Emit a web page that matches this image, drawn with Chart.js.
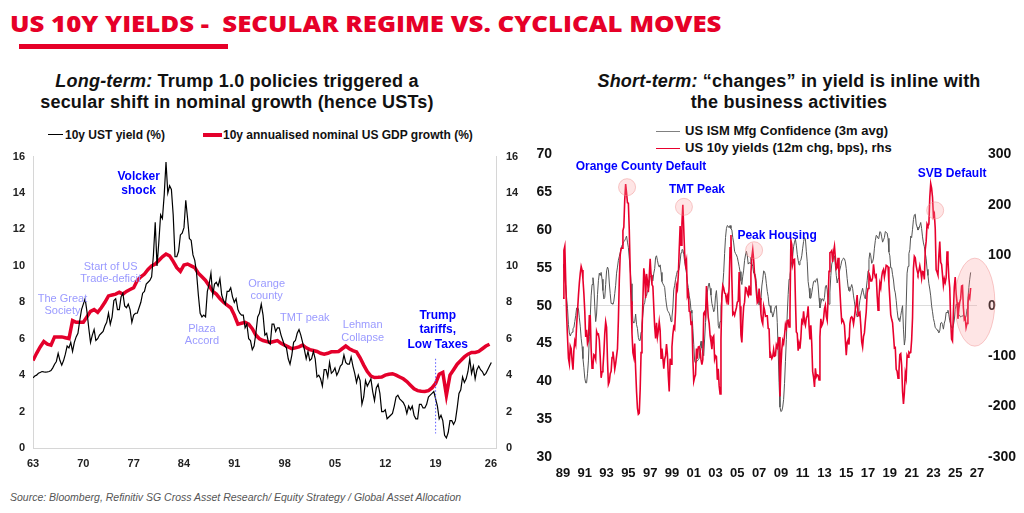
<!DOCTYPE html>
<html>
<head>
<meta charset="utf-8">
<script src="https://cdn.jsdelivr.net/npm/chart.js@4.4.1/dist/chart.umd.min.js"></script>
<style>
  body { margin: 0; background: #fff; }
  #page { position: relative; width: 1024px; height: 513px; overflow: hidden; font-family: "Liberation Sans", Arial, sans-serif; }
  .abs { position: absolute; white-space: nowrap; }
  #title { left: 10px; top: 9px; font: 800 23px/28px "Open Sans", Roboto, sans-serif; color: #e60028; transform: scaleX(1.12); transform-origin: 0 0; }
  #bar { left: 19px; top: 44px; width: 209px; height: 5px; background: #e60028; }
  .sub { top: 71px; font: 700 18px/21px "Liberation Sans", Arial, sans-serif; letter-spacing: 0.2px; color: #111; text-align: center; }
  .leg { font-weight: 700; color: #111; }
  .line { position: absolute; }
  #source { left: 10px; top: 492px; font: italic 10.5px/11px "Liberation Sans", Arial, sans-serif; color: #555; }
</style>
</head>
<body>
<div id="page">
  <div id="title" class="abs">US 10Y YIELDS -&nbsp; SECULAR REGIME VS. CYCLICAL MOVES</div>
  <div id="bar" class="abs"></div>

  <div class="abs sub" style="left:0;width:474px"><i>Long-term:</i> Trump 1.0 policies triggered a<br>secular shift in nominal growth (hence USTs)</div>
  <div class="abs sub" style="left:529px;width:520px"><i>Short-term:</i> “changes” in yield is inline with<br>the business activities</div>

  <div class="line" style="left:48px;top:134px;width:15px;height:1.3px;background:#000"></div>
  <div class="abs leg" style="left:65px;top:128px;font-size:12px;line-height:14px">10y UST yield (%)</div>
  <div class="line" style="left:203px;top:133px;width:19px;height:4px;background:#e4002b"></div>
  <div class="abs leg" style="left:223px;top:128px;font-size:12px;line-height:14px">10y annualised nominal US GDP growth (%)</div>

  <div class="line" style="left:656px;top:130.5px;width:24px;height:1.5px;background:#808080"></div>
  <div class="abs leg" style="left:685px;top:122px;font-size:13px;line-height:17px">US ISM Mfg Confidence (3m avg)</div>
  <div class="line" style="left:656px;top:147.5px;width:24px;height:1.5px;background:#e8002d"></div>
  <div class="abs leg" style="left:685px;top:139px;font-size:13px;line-height:17px">US 10y yields (12m chg, bps), rhs</div>

  <div class="abs" style="left:0;top:140px"><canvas id="left" width="530" height="340"></canvas></div>
  <div class="abs" style="left:525px;top:135px"><canvas id="right" width="499" height="355"></canvas></div>

  <div id="source" class="abs">Source: Bloomberg, Refinitiv SG Cross Asset Research/ Equity Strategy / Global Asset Allocation</div>
</div>

<script>
// left panel: quarterly 10y UST yield from 1963Q1, semi-annual 10y nominal GDP growth from 1963H1
const leftStartYear = 1963
const leftYearTicks = [1963, 1970, 1977, 1984, 1991, 1998, 2005, 2012, 2019, 2026.7]
const ustYield = [
  3.85, 3.95, 4.0, 4.1,
  4.15, 4.2, 4.18, 4.17,
  4.18, 4.2, 4.25, 4.4,
  4.6, 4.75, 5.2, 4.8,
  4.55, 4.8, 5.15, 5.6,
  5.5, 5.8, 5.3, 5.8,
  6.1, 6.3, 7.0, 7.6,
  7.9, 8.2, 7.5, 6.6,
  5.8, 6.2, 6.5, 5.9,
  6.0, 6.2, 6.3, 6.4,
  6.7, 6.9, 7.4, 6.8,
  7.2, 8.1, 8.2, 7.6,
  7.6, 8.3, 8.5, 7.8,
  7.7, 7.9, 7.6, 6.9,
  7.3, 7.4, 7.4, 7.7,
  8.0, 8.5, 8.6, 9.0,
  9.1, 9.2, 9.4, 10.6,
  12.4, 10.0, 11.3, 12.8,
  12.6, 13.9, 15.7, 14.0,
  14.4, 14.2, 12.8, 10.5,
  10.5, 10.8, 11.7, 11.8,
  12.1, 13.6, 12.6, 11.5,
  11.4, 10.6, 10.3, 9.6,
  8.4, 7.4, 7.2, 7.3,
  7.2, 8.6, 9.0, 9.6,
  8.4, 9.0, 9.1, 8.9,
  9.3, 8.4, 8.1, 7.9,
  8.6, 8.6, 8.8, 8.3,
  8.0, 8.2, 7.6, 7.4,
  7.3, 7.3, 6.6, 6.8,
  6.0, 5.9, 5.4, 5.6,
  6.3, 7.2, 7.4, 7.9,
  7.3, 6.2, 6.3, 5.8,
  5.7, 6.8, 6.8, 6.4,
  6.6, 6.6, 6.2, 5.9,
  5.6, 5.5, 4.9, 4.6,
  5.1, 5.8, 5.9, 6.3,
  6.5, 6.2, 5.8, 5.4,
  4.9, 5.3, 4.8, 4.9,
  5.3, 4.9, 3.9, 4.0,
  3.8, 3.4, 4.3, 4.3,
  3.9, 4.7, 4.1, 4.2,
  4.4, 4.0, 4.2, 4.5,
  4.6, 5.1, 4.7, 4.6,
  4.6, 5.0, 4.5, 4.1,
  3.6, 4.0, 3.7, 2.4,
  2.8, 3.7, 3.4, 3.6,
  3.8, 3.1, 2.6, 3.3,
  3.5, 3.0, 2.0, 2.0,
  2.1, 1.6, 1.7, 1.8,
  1.9, 2.3, 2.8, 2.9,
  2.7, 2.6, 2.5, 2.3,
  1.9, 2.3, 2.1, 2.3,
  1.8, 1.6, 1.6, 2.4,
  2.4, 2.2, 2.2, 2.4,
  2.8, 2.9, 3.0, 3.1,
  2.7, 2.3, 1.6, 1.8,
  1.5, 0.7, 0.55, 0.85,
  1.5, 1.5, 1.3, 1.5,
  2.2, 3.0, 3.2, 3.9,
  3.6, 3.8, 4.2, 4.9,
  4.1, 4.5, 3.8, 4.3,
  4.5, 4.3, 4.2, 4.0,
  4.1, 4.3, 4.5, 4.7,
]
const gdpGrowth = [
  4.8, 5.2, 5.55, 5.85, 5.7, 5.65, 6.1, 6.1, 6.1, 6.05,
  6.0, 7.0, 6.9, 6.9, 6.9, 7.2, 7.5, 7.6, 7.45, 7.7,
  8.0, 8.35, 8.4, 8.45, 8.55, 8.45, 8.6, 8.7, 8.8, 9.2,
  9.4, 9.55, 9.8, 10.0, 10.1, 10.3, 10.5, 10.65, 10.55, 10.25,
  9.9, 9.7, 10.05, 10.1, 10.0, 9.9, 9.6, 9.4, 9.2, 8.9,
  8.6, 8.45, 8.2, 8.0, 7.85, 7.7, 7.3, 6.8, 6.85, 6.9,
  6.8, 6.55, 6.2, 6.0, 5.9, 5.85, 5.8, 5.85, 5.9, 5.75,
  5.65, 5.55, 5.45, 5.5, 5.55, 5.65, 5.5, 5.4, 5.35, 5.3,
  5.2, 5.15, 5.2, 5.28, 5.28, 5.3, 5.45, 5.6, 5.45, 5.35,
  5.28, 4.95, 4.55, 4.2, 3.95, 3.87, 3.88, 3.9, 4.0, 4.05,
  4.08, 4.0, 3.9, 3.8, 3.65, 3.45, 3.25, 3.15, 3.12, 3.1,
  3.15, 3.3, 3.55, 4.05, 4.15, 2.9, 4.0, 4.3, 4.6, 4.8,
  5.0, 5.15, 5.25, 5.25, 5.3, 5.45, 5.6, 5.7,
]

// right panel: monthly from Jan 1989
const rightStartYear = 1989
const rightYearTicks = [1989, 1991, 1993, 1995, 1997, 1999, 2001, 2003, 2005, 2007, 2009, 2011, 2013, 2015, 2017, 2019, 2021, 2023, 2025, 2027]
const ismConfidence = [
  55.5, 55.0, 53.4, 52.6, 51.0, 49.6, 47.5, 46.4, 46.0, 46.3, 46.5, 47.0,
  47.1, 47.9, 48.7, 49.7, 49.8, 49.6, 48.4, 47.3, 45.7, 44.6, 43.0, 41.8,
  40.4, 39.8, 39.8, 41.0, 42.7, 45.9, 48.5, 51.3, 52.8, 53.7, 52.6, 49.9,
  47.9, 48.9, 51.5, 53.3, 54.3, 54.0, 54.4, 53.5, 52.0, 50.9, 51.1, 52.8,
  54.6, 55.1, 54.8, 53.0, 51.6, 50.3, 50.3, 50.2, 50.6, 51.6, 52.7, 54.3,
  55.1, 56.0, 56.5, 57.0, 57.4, 58.0, 58.2, 58.5, 58.6, 58.9, 59.2, 58.4,
  57.7, 56.3, 54.9, 52.9, 50.1, 48.0, 47.7, 47.9, 48.9, 47.5, 47.0, 45.8,
  45.4, 45.4, 46.5, 47.6, 48.9, 50.1, 50.4, 51.3, 51.3, 51.9, 52.1, 52.9,
  53.9, 53.9, 53.5, 53.3, 54.3, 54.9, 56.4, 56.6, 56.0, 55.4, 55.1, 55.4,
  54.4, 53.2, 52.9, 52.7, 52.4, 51.1, 50.1, 49.4, 49.2, 49.0, 48.6, 47.9,
  48.5, 49.7, 52.1, 52.7, 53.5, 54.1, 54.6, 54.5, 54.9, 55.9, 57.0, 57.4,
  57.4, 56.8, 55.8, 55.1, 54.3, 53.1, 52.4, 51.3, 50.7, 49.4, 49.0, 47.0,
  44.9, 42.7, 42.4, 42.7, 42.7, 42.9, 43.0, 44.5, 45.3, 44.4, 43.7, 43.4,
  45.6, 47.8, 50.2, 51.8, 52.6, 53.0, 52.3, 51.4, 50.3, 49.8, 49.2, 49.5,
  51.3, 52.0, 50.2, 47.4, 47.0, 47.9, 49.8, 51.1, 52.7, 54.4, 56.9, 59.0,
  60.2, 60.6, 60.5, 60.3, 60.6, 60.2, 60.0, 59.0, 58.3, 57.2, 56.9, 56.7,
  56.4, 55.8, 55.2, 54.5, 53.3, 52.8, 53.9, 54.7, 56.0, 56.7, 57.2, 56.6,
  55.5, 55.7, 55.6, 56.4, 55.6, 55.2, 54.3, 54.3, 54.0, 52.9, 51.2, 50.7,
  50.1, 51.0, 50.8, 52.6, 53.5, 54.6, 54.5, 54.0, 52.9, 51.9, 51.2, 50.0,
  50.0, 49.1, 49.2, 48.5, 48.9, 49.5, 49.9, 50.0, 47.8, 44.1, 39.8, 36.6,
  36.0, 36.1, 36.6, 37.6, 39.7, 42.6, 45.5, 48.9, 51.5, 53.5, 54.0, 55.0,
  55.9, 56.6, 57.8, 58.4, 58.8, 58.0, 56.8, 56.0, 55.4, 55.9, 56.0, 56.6,
  57.6, 58.5, 59.0, 58.8, 57.2, 55.8, 53.2, 52.3, 51.0, 51.0, 51.7, 52.5,
  53.2, 53.3, 53.1, 53.5, 53.6, 52.6, 51.0, 49.7, 50.3, 50.9, 50.9, 50.6,
  51.1, 52.5, 52.7, 52.1, 50.3, 50.2, 51.8, 54.0, 55.5, 55.9, 56.4, 56.6,
  55.3, 54.0, 53.0, 53.6, 54.3, 54.8, 55.3, 55.9, 56.1, 56.3, 56.2, 55.8,
  54.9, 53.6, 52.5, 52.0, 51.9, 52.4, 52.8, 52.3, 51.3, 50.5, 49.6, 49.0,
  48.5, 48.7, 49.8, 50.7, 51.3, 51.8, 52.3, 51.7, 51.2, 50.9, 52.2, 53.3,
  54.6, 56.1, 57.0, 56.6, 55.6, 55.8, 56.3, 57.6, 58.6, 59.3, 59.2, 58.9,
  59.0, 59.8, 59.7, 59.1, 58.4, 58.7, 59.0, 59.8, 59.7, 59.6, 58.9, 57.1,
  56.6, 55.0, 55.0, 54.1, 53.4, 52.2, 51.7, 50.7, 49.4, 48.4, 48.1, 47.9,
  48.7, 49.4, 50.0, 46.9, 44.8, 45.7, 50.0, 54.3, 55.2, 56.9, 57.4, 59.2,
  59.0, 60.1, 61.4, 62.0, 62.1, 60.8, 60.4, 60.0, 60.2, 60.6, 61.0, 60.2,
  59.1, 58.3, 57.8, 57.0, 56.2, 54.8, 54.0, 52.9, 52.2, 51.3, 50.0, 49.2,
  48.3, 47.8, 47.1, 47.0, 46.8, 46.7, 46.4, 46.7, 47.7, 47.8, 47.5, 46.9,
  47.7, 48.1, 49.1, 49.1, 49.4, 48.8, 48.0, 47.5, 47.1, 47.0, 47.4, 48.1,
  49.5, 50.2, 50.1, 49.3, 48.7, 48.7, 48.5, 48.6, 48.6, 48.8, 48.7, 48.3,
  48.6, 49.6, 51.0, 52.4, 53.5, 54.4,
]
const yieldChangeBps = [
  15, 110, 118, 50, -20, -64, -104, -115, -80, -85, -109, -127,
  -88, -70, -77, -39, -10, 20, 45, 64, 78, 71, 52, 24,
  -12, -62, -48, -75, -69, -20, -20, -85, -124, -119, -97, -99,
  -106, -51, -57, -56, -68, -102, -143, -131, -123, -94, -55, -32,
  -43, -108, -156, -151, -135, -130, -103, -91, -106, -126, -115, -100,
  -85, -29, 50, 100, 114, 114, 149, 156, 210, 241, 224, 204,
  203, 150, 72, 9, -55, -93, -102, -75, -126, -170, -203, -215,
  -213, -166, -93, -55, 11, 74, 59, 15, 63, 49, 27, 59,
  93, 61, 42, 38, -3, -42, -65, -34, -62, -50, -32, -49,
  -104, -85, -104, -125, -106, -99, -76, -96, -140, -170, -105, -116,
  -82, -57, -42, -46, -11, 40, 33, 60, 111, 158, 120, 163,
  200, 152, 103, 81, 90, 20, 26, -11, -12, -37, -31, -104,
  -150, -142, -137, -85, -105, -82, -81, -86, -107, -117, -107, -15,
  -12, -19, 39, 7, -23, -35, -59, -71, -86, -63, -60, -106,
  -99, -101, -147, -125, -159, -175, -67, 19, 40, 35, 25, 24,
  10, 18, 2, 39, 115, 140, 52, -17, -14, -19, -11, -4,
  7, 9, 67, -1, -58, -73, -32, -2, 7, 36, 35, 24,
  20, 40, 22, 65, 97, 111, 91, 62, 52, 27, 6, 9,
  34, 15, -16, -30, -36, -1, -9, -21, -20, -20, -45, -46,
  -102, -98, -105, -101, -87, -100, -99, -78, -83, -72, -62, -180,
  -122, -87, -69, -75, -59, -38, -45, -30, -29, -42, -13, 130,
  121, 82, 91, 92, 13, -52, -55, -89, -75, -85, -64, -30,
  -34, -11, -32, -39, -25, -20, -1, -40, -67, -39, -75, -131,
  -142, -161, -124, -141, -137, -138, -147, -62, -26, -40, -36, -26,
  -6, 1, -21, -29, 13, 68, 105, 106, 109, 87, 107, 118,
  95, 73, 76, 95, 63, 30, -4, -32, -28, -32, -39, -69,
  -98, -73, -68, -77, -36, -24, -22, -25, -36, -23, -7, 3,
  21, -20, -15, -13, -39, -72, -82, -61, -54, -31, -12, 25,
  34, 64, 59, 49, 49, 55, 82, 65, 57, 60, 21, -9,
  15, 44, 36, 57, 68, 72, 57, 68, 80, 79, 77, 43,
  13, -18, -27, -34, -58, -84, -83, -126, -130, -144, -131, -97,
  -95, -118, -170, -195, -173, -134, -144, -98, -102, -92, -94, -93,
  -68, -24, 74, 98, 95, 79, 70, 63, 69, 79, 69, 54,
  68, 67, 52, 111, 128, 162, 158, 162, 215, 242, 233, 215,
  177, 182, 153, 71, 67, 61, 100, 127, 86, 82, 61, 40,
  53, 46, 55, 108, 91, 56, 35, -30, -66, -70, -14, 37,
  57, 24, 7, -26, -6, 7, 14, 39, 40, -4, -27, -24,
  -43, -35, 5, 20, 15, 35,
]

function toPoints(values, start, perYear) {
  return values.map((v, i) => ({ x: start + i / perYear, y: v }))
}

// draws text notes, circles and dotted markers at data coordinates
function notesPlugin(notes) {
  return {
    id: "notes",
    afterDatasetsDraw(chart) {
      const { ctx, scales } = chart
      ctx.save()
      ;(notes.shapes || []).forEach((s) => {
        const x = scales.x.getPixelForValue(s.x)
        const y = scales[s.axis].getPixelForValue(s.y)
        ctx.beginPath()
        ctx.ellipse(x, y, s.rx, s.ry, 0, 0, Math.PI * 2)
        ctx.fillStyle = "rgba(250, 150, 150, 0.25)"
        ctx.fill()
        ctx.strokeStyle = "rgba(240, 140, 140, 0.45)"
        ctx.lineWidth = 1
        ctx.stroke()
      })
      ;(notes.vlines || []).forEach((l) => {
        const x = scales.x.getPixelForValue(l.x)
        ctx.beginPath()
        ctx.setLineDash([1.5, 2])
        ctx.strokeStyle = "#5a5aff"
        ctx.lineWidth = 1
        ctx.moveTo(x, scales.y.getPixelForValue(l.from))
        ctx.lineTo(x, scales.y.getPixelForValue(l.to))
        ctx.stroke()
        ctx.setLineDash([])
      })
      ;(notes.labels || []).forEach((n) => {
        const x = scales.x.getPixelForValue(n.x)
        const y = scales[n.axis].getPixelForValue(n.y)
        ctx.font = n.bold ? "bold 12px 'Liberation Sans', Arial" : "11px 'Liberation Sans', Arial"
        ctx.fillStyle = n.bold ? "#0000ff" : "#9a9aff"
        ctx.textAlign = "center"
        ctx.textBaseline = "middle"
        const lh = n.bold ? 14.5 : 12.5
        n.text.split("\n").forEach((line, i) => ctx.fillText(line, x, y + i * lh))
      })
      ctx.restore()
    },
  }
}

const tickFont = (size) => ({ family: "'Liberation Sans', Arial", size: size, weight: "bold" })
const twoDigit = (v) => String(Math.floor(v) % 100).padStart(2, "0")

// ---------- left: long-term ----------
new Chart(document.getElementById("left"), {
  type: "line",
  data: {
    datasets: [
      {
        label: "10y UST yield (%)",
        data: toPoints(ustYield, leftStartYear, 4),
        borderColor: "#000",
        borderWidth: 1.2,
        pointRadius: 0,
      },
      {
        label: "10y annualised nominal US GDP growth (%)",
        data: toPoints(gdpGrowth, leftStartYear, 2),
        borderColor: "#e4002b",
        borderWidth: 3.5,
        pointRadius: 0,
      },
    ],
  },
  options: {
    responsive: false,
    animation: false,
    layout: { padding: { top: 15, left: 0, right: 0, bottom: 0 } },
    plugins: { legend: { display: false }, tooltip: { enabled: false } },
    scales: {
      x: {
        type: "linear",
        min: 1963,
        max: 2027.4,
        afterBuildTicks: (axis) => { axis.ticks = leftYearTicks.map((v) => ({ value: v })) },
        afterFit: (scale) => { scale.height = 32 },
        ticks: { callback: twoDigit, font: tickFont(11), color: "#222", padding: 9, maxRotation: 0, autoSkip: false },
        grid: { display: false, drawTicks: false },
        border: { color: "#d6d6d6" },
      },
      y: {
        position: "left",
        min: 0,
        max: 16,
        afterFit: (scale) => { scale.width = 33 },
        ticks: { stepSize: 2, font: tickFont(11), color: "#222", padding: 8 },
        grid: { display: false, drawTicks: false },
        border: { color: "#d6d6d6" },
      },
      y2: {
        position: "right",
        min: 0,
        max: 16,
        afterFit: (scale) => { scale.width = 34 },
        ticks: { stepSize: 2, font: tickFont(11), color: "#222", padding: 10 },
        grid: { display: false, drawTicks: false },
        border: { color: "#d6d6d6" },
      },
    },
  },
  plugins: [
    notesPlugin({
      labels: [
        { text: "The Great\nSociety", x: 1967.1, y: 8.2, axis: "y" },
        { text: "Start of US\nTrade-deficit", x: 1973.8, y: 9.95, axis: "y" },
        { text: "Plaza\nAccord", x: 1986.5, y: 6.56, axis: "y" },
        { text: "Orange\ncounty", x: 1995.5, y: 9.02, axis: "y" },
        { text: "TMT peak", x: 2000.8, y: 7.12, axis: "y" },
        { text: "Lehman\nCollapse", x: 2008.85, y: 6.73, axis: "y" },
        { text: "Volcker\nshock", x: 1977.7, y: 14.9, axis: "y", bold: true },
        { text: "Trump\ntariffs,\nLow Taxes", x: 2019.3, y: 7.27, axis: "y", bold: true },
      ],
      vlines: [{ x: 2019, from: 4.9, to: 0.8 }],
    }),
  ],
})

// ---------- right: short-term ----------
new Chart(document.getElementById("right"), {
  type: "line",
  data: {
    datasets: [
      {
        label: "US 10y yields (12m chg, bps), rhs",
        data: toPoints(yieldChangeBps, rightStartYear, 12),
        yAxisID: "y2",
        borderColor: "#e8002d",
        borderWidth: 1.6,
        pointRadius: 0,
      },
      {
        label: "US ISM Mfg Confidence (3m avg)",
        data: toPoints(ismConfidence, rightStartYear, 12),
        yAxisID: "y",
        borderColor: "#555",
        borderWidth: 1,
        pointRadius: 0,
      },
    ],
  },
  options: {
    responsive: false,
    animation: false,
    layout: { padding: { top: 15, left: 0, right: 0, bottom: 0 } },
    plugins: { legend: { display: false }, tooltip: { enabled: false } },
    scales: {
      x: {
        type: "linear",
        min: 1989,
        max: 2027,
        afterBuildTicks: (axis) => { axis.ticks = rightYearTicks.map((v) => ({ value: v })) },
        afterFit: (scale) => { scale.height = 33 },
        ticks: { callback: twoDigit, font: tickFont(13), color: "#111", padding: 9, maxRotation: 0, autoSkip: false },
        grid: { display: false, drawTicks: false },
        border: { display: false },
      },
      y: {
        position: "left",
        min: 30,
        max: 70,
        afterFit: (scale) => { scale.width = 38 },
        ticks: { stepSize: 5, font: tickFont(14), color: "#111", padding: 11 },
        grid: { drawTicks: false, color: (c) => (c.tick && c.tick.value === 50 ? "#dcdcdc" : "rgba(0,0,0,0)") },
        border: { display: false },
      },
      y2: {
        position: "right",
        min: -300,
        max: 300,
        afterFit: (scale) => { scale.width = 47 },
        ticks: { stepSize: 100, font: tickFont(14), color: "#111", padding: 11 },
        grid: { display: false, drawTicks: false },
        border: { display: false },
      },
    },
  },
  plugins: [
    notesPlugin({
      shapes: [
        { x: 1994.88, y: 235, axis: "y2", rx: 8.5, ry: 8.5 },
        { x: 2000.1, y: 196, axis: "y2", rx: 8.5, ry: 8.5 },
        { x: 2006.54, y: 110, axis: "y2", rx: 8.5, ry: 8.5 },
        { x: 2023.16, y: 189, axis: "y2", rx: 8.5, ry: 8.5 },
        { x: 2026.8, y: 7, axis: "y2", rx: 20, ry: 44 },
      ],
      labels: [
        { text: "Orange County Default", x: 1996.16, y: 275, axis: "y2", bold: true },
        { text: "TMT Peak", x: 2001.3, y: 230, axis: "y2", bold: true },
        { text: "Peak Housing", x: 2008.65, y: 138, axis: "y2", bold: true },
        { text: "SVB Default", x: 2024.72, y: 261, axis: "y2", bold: true },
      ],
    }),
  ],
})
</script>
</body>
</html>
